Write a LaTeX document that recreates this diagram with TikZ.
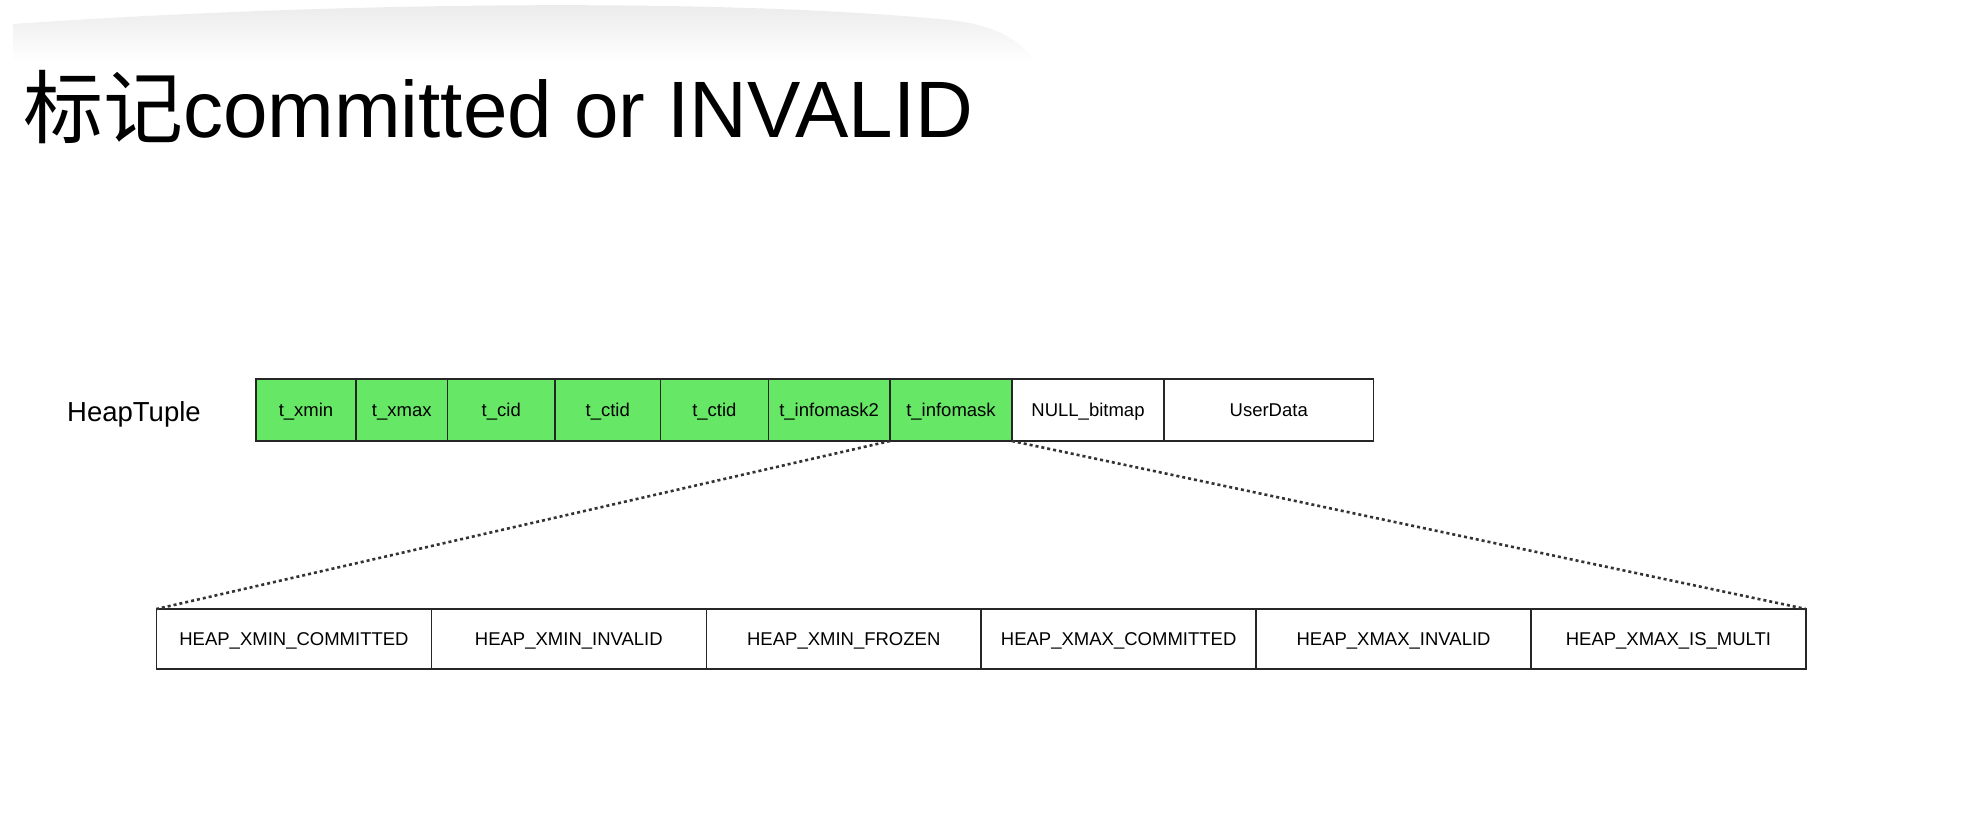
\documentclass[tikz,border=0pt]{standalone}
\usepackage{fontspec}
\setmainfont{Liberation Sans}
\newfontfamily\cjk{Noto Sans CJK SC}
\definecolor{cellgreen}{RGB}{102,232,102}
\tikzset{
  cellbox/.style={draw=black!85, line width=1.6pt, inner sep=0pt, outer sep=0pt,
    anchor=north west, minimum height=62pt, text height=13.3pt, text depth=0pt,
    font=\fontsize{18.5}{20}\selectfont},
  greencell/.style={cellbox, fill=cellgreen},
  whitecell/.style={cellbox, fill=white},
  flagcell/.style={cellbox, fill=white, minimum height=60pt, minimum width=274.9pt},
  zoomline/.style={line width=2.6pt, dash pattern=on 3pt off 3pt, black!80}
}
\begin{document}
\begin{tikzpicture}[x=1pt,y=-1pt]
\useasboundingbox (0,0) rectangle (1965,812);
\fill[white] (0,0) rectangle (1965,812);
% faint shadow at the top
\shade[top color=black!9, bottom color=white]
  (13,60) -- (13,24) .. controls (300,4) and (700,-4) .. (950,20)
  .. controls (1000,26) and (1022,42) .. (1035,62) -- cycle;
% title
\node[anchor=base west, inner sep=0pt, font=\fontsize{80}{84}\selectfont] (title) at (23,137)
  {{\cjk 标记}committed or INVALID};
% label
\node[anchor=base west, inner sep=0pt, font=\fontsize{27.5}{30}\selectfont] (label) at (67,421) {HeapTuple};
% top row
\node[greencell, minimum width=100pt]   (c1) at (256,379)   {t\_xmin};
\node[greencell, minimum width=91.5pt]  (c2) at (356,379)   {t\_xmax};
\node[greencell, minimum width=107.5pt] (c3) at (447.5,379) {t\_cid};
\node[greencell, minimum width=105.5pt] (c4) at (555,379)   {t\_ctid};
\node[greencell, minimum width=107.8pt] (c5) at (660.5,379) {t\_ctid};
\node[greencell, minimum width=121.7pt] (c6) at (768.3,379) {t\_infomask2};
\node[greencell, minimum width=122pt]   (c7) at (890,379)   {t\_infomask};
\node[whitecell, minimum width=152pt]   (c8) at (1012,379)  {NULL\_bitmap};
\node[whitecell, minimum width=209.5pt] (c9) at (1164,379)  {UserData};
% bottom row
\node[flagcell] (b1) at (156.5,609)  {HEAP\_XMIN\_COMMITTED};
\node[flagcell] (b2) at (431.4,609)  {HEAP\_XMIN\_INVALID};
\node[flagcell] (b3) at (706.3,609)  {HEAP\_XMIN\_FROZEN};
\node[flagcell] (b4) at (981.2,609)  {HEAP\_XMAX\_COMMITTED};
\node[flagcell] (b5) at (1256.1,609) {HEAP\_XMAX\_INVALID};
\node[flagcell] (b6) at (1531,609)   {HEAP\_XMAX\_IS\_MULTI};
% zoom lines
\draw[zoomline] (c7.south west) -- (b1.north west);
\draw[zoomline] (c7.south east) -- (b6.north east);
\end{tikzpicture}
\end{document}
